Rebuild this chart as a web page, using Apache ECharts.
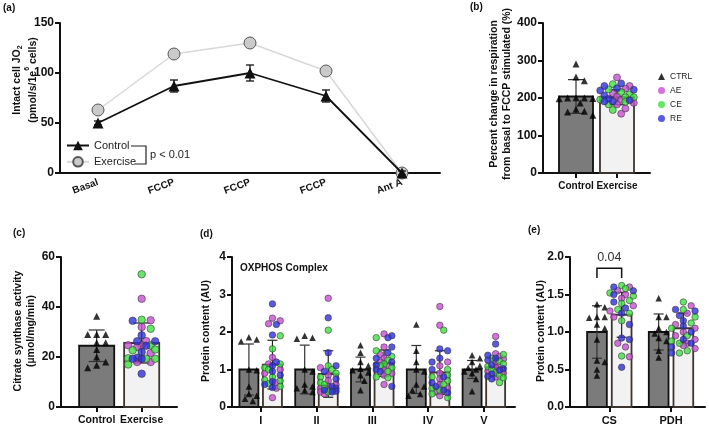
<!DOCTYPE html>
<html>
<head>
<meta charset="utf-8">
<script src="https://cdn.jsdelivr.net/npm/echarts@6/dist/echarts.min.js"></script>
<style>
  html, body { margin: 0; padding: 0; background: #fff; }
  #chart { width: 709px; height: 428px; }
</style>
</head>
<body>
<div id="chart"></div>
<script>
// ---- (a) intact cell respiration ----
const respSteps = ['Basal', 'FCCP', 'FCCP', 'FCCP', 'Ant A'];
const respControl = [50, 87, 100, 77, 0];
const respControlErr = [2, 6, 8, 6, 2];
const respExercise = [63, 119, 130, 102, 0];
const respExerciseErr = [2, 4, 4, 2, 2];

// ---- (b) percent change basal -> FCCP ----
const groupNames = ['Control', 'Exercise'];
const pctMean = [204, 202];
const pctSd = [45, 20];
const pctCtrl = [291, 256, 246, 200, 200, 199, 201, 198, 187, 170, 165, 163, 154];
const pctAE = [255, 232, 225, 213, 204, 195, 187, 183, 172, 158];
const pctCE = [237, 223, 216, 210, 202, 202, 196, 190, 183, 168];
const pctRE = [239, 232, 226, 222, 220, 207, 198, 194, 191, 191];

// ---- (c) citrate synthase activity ----
const csActMean = [24.5, 25.6];
const csActSd = [6.3, 8];
const csActCtrl = [36.3, 29, 29, 29, 25.7, 25.7, 23, 20, 18, 16.7, 15.7];
const csActAE = [43.3, 34.7, 32, 26.4, 24.7, 24.7, 24, 21.5, 18, 18];
const csActCE = [53.1, 34.9, 31.3, 24.7, 23, 22.7, 19.3, 19.3, 19.5, 17];
const csActRE = [34.5, 28.7, 26.3, 26.3, 24.5, 22, 19.7, 19.3, 19.3, 13.3];

// ---- (d) OXPHOS complexes ----
const oxComplexes = ['I', 'II', 'III', 'IV', 'V'];
const oxCtrlMean = [1.0, 1.0, 1.0, 1.0, 1.0];
const oxCtrlSd = [0.68, 0.65, 0.33, 0.64, 0.24];
const oxExMean = [1.13, 0.88, 1.17, 0.92, 1.06];
const oxExSd = [0.65, 0.62, 0.35, 0.58, 0.24];
const oxCtrl = [
  [1.86, 1.8, 1.75, 1.0, 0.98, 0.55, 0.35, 0.3, 0.22, 0.16],
  [1.9, 1.85, 1.82, 1.0, 0.95, 0.6, 0.55, 0.5, 0.45, 0.4],
  [1.65, 1.45, 1.2, 1.1, 1.02, 0.98, 0.92, 0.85, 0.7, 0.45],
  [2.2, 1.5, 1.2, 1.0, 0.95, 0.6, 0.55, 0.45, 0.35, 0.3],
  [1.38, 1.3, 1.2, 1.1, 1.05, 1.0, 0.95, 0.9, 0.75, 0.42]
];
const oxAE = [
  [2.37, 2.3, 2.22, 1.32, 1.15, 1.0, 0.9, 0.65, 0.5, 0.25],
  [2.9, 1.05, 0.85, 0.7, 0.6, 0.55, 0.5, 0.45, 0.4, 0.35],
  [1.95, 1.6, 1.4, 1.3, 1.2, 1.1, 1.0, 0.9, 0.85, 0.6],
  [2.68, 2.18, 1.2, 1.1, 0.9, 0.75, 0.6, 0.5, 0.4, 0.3],
  [1.88, 1.42, 1.35, 1.28, 1.2, 1.1, 1.05, 0.95, 0.9, 0.8]
];
const oxCE = [
  [1.9, 1.55, 1.15, 1.05, 1.0, 0.8, 0.72, 0.7, 0.62, 0.55],
  [2.05, 1.1, 1.0, 0.9, 0.8, 0.65, 0.6, 0.5, 0.45, 0.4],
  [1.85, 1.5, 1.35, 1.25, 1.15, 1.1, 1.05, 0.95, 0.8, 0.78],
  [2.05, 1.0, 0.85, 0.8, 0.7, 0.6, 0.5, 0.45, 0.35, 0.25],
  [1.4, 1.3, 1.22, 1.15, 1.08, 1.0, 0.92, 0.85, 0.78, 0.65]
];
const oxRE = [
  [2.75, 2.2, 1.92, 1.2, 1.1, 0.95, 0.85, 0.68, 0.6, 0.52],
  [2.38, 1.45, 1.1, 0.95, 0.75, 0.55, 0.5, 0.45, 0.42, 0.4],
  [1.9, 1.85, 1.6, 1.45, 1.3, 1.2, 1.12, 1.0, 0.95, 0.55],
  [1.55, 1.5, 1.3, 1.2, 1.0, 0.8, 0.65, 0.55, 0.45, 0.38],
  [1.68, 1.38, 1.3, 1.25, 1.12, 1.02, 0.98, 0.88, 0.82, 0.75]
];

// ---- (e) CS and PDH protein ----
const enzymes = ['CS', 'PDH'];
const enzCtrlMean = [1.0, 1.0];
const enzCtrlSd = [0.35, 0.24];
const enzExMean = [1.23, 1.05];
const enzExSd = [0.3, 0.2];
const enzCtrl = [
  [1.37, 1.33, 1.2, 1.2, 1.19, 1.1, 1.05, 0.9, 0.62, 0.6, 0.5, 0.42],
  [1.45, 1.2, 1.2, 1.05, 1.0, 0.98, 0.92, 0.88, 0.75, 0.66]
];
const enzAE = [
  [1.6, 1.55, 1.5, 1.45, 1.35, 1.28, 1.2, 0.85, 0.8, 0.67],
  [1.35, 1.25, 1.1, 1.05, 1.0, 0.95, 0.9, 0.85, 0.82, 0.78]
];
const enzCE = [
  [1.62, 1.58, 1.52, 1.48, 1.42, 1.38, 1.3, 1.25, 1.15, 0.68],
  [1.4, 1.3, 1.2, 1.12, 1.05, 0.95, 0.88, 0.85, 0.75, 0.72]
];
const enzRE = [
  [1.6, 1.55, 1.5, 1.4, 1.32, 1.25, 1.1, 0.92, 0.9, 0.53],
  [1.3, 1.28, 1.22, 1.15, 1.08, 1.0, 0.9, 0.85, 0.8, 0.72]
];
const csPValue = '0.04';

const FONT = '"Liberation Sans", Arial, sans-serif';
const groupColors = { CTRL: '#000', AE: '#c84fd4', CE: '#40e040', RE: '#2f2fe0' };

// deterministic beeswarm: spreads points sideways so they do not overlap
function swarm(vals, pxX, pxY, diam, maxPx) {
  const order = vals.map((v, i) => i).sort((a, b) => vals[b] - vals[a]);
  const placed = [];
  const offs = new Array(vals.length).fill(0);
  const step = diam * 0.6;
  order.forEach(i => {
    const y = vals[i] * pxY;
    let best = 0, bestGap = -1;
    for (let k = 0; k < 40; k++) {
      const off = (k % 2 ? 1 : -1) * Math.ceil(k / 2) * step;
      if (Math.abs(off) > maxPx) break;
      const gap = placed.reduce((g, p) => Math.min(g, Math.hypot(p[0] - off, p[1] - y)), Infinity);
      if (gap >= diam * 0.9) { best = off; bestGap = gap; break; }
      if (gap > bestGap) { bestGap = gap; best = off; }
    }
    placed.push([best, y]);
    offs[i] = best / pxX;
  });
  return offs;
}

function axisLineStyle() {
  return { show: true, lineStyle: { color: '#111', width: 2 } };
}

function valueY(gi, max, interval, fmt) {
  return {
    type: 'value', gridIndex: gi, min: 0, max: max, interval: interval,
    axisLine: axisLineStyle(),
    axisTick: { show: true, length: 5, lineStyle: { color: '#111', width: 2 } },
    axisLabel: { color: '#111', fontWeight: 'bold', fontSize: 12, fontFamily: FONT, margin: 6, formatter: fmt },
    splitLine: { show: false }
  };
}

function valueX(gi, min, max, names, fontSize) {
  const ticks = names.map((n, i) => i + 1);
  return {
    type: 'value', gridIndex: gi, min: min, max: max,
    axisLine: axisLineStyle(),
    axisTick: { show: true, length: 5, customValues: ticks, lineStyle: { color: '#111', width: 2 } },
    axisLabel: {
      customValues: ticks, color: '#111', fontWeight: 'bold', fontSize: fontSize, fontFamily: FONT, margin: 8,
      showMinLabel: true, showMaxLabel: true,
      formatter: v => names[Math.round(v) - 1] || ''
    },
    splitLine: { show: false }
  };
}

function barPanel(gi, bars, opt) {
  const pxX = opt.width / (opt.xMax - opt.xMin);
  const pxY = opt.height / opt.yMax;
  const barData = bars.map(b => [b.x, b.mean, b.kind === 'ctrl' ? 0 : 1]);
  const errData = bars.map(b => [b.x, b.mean - b.sd, b.mean + b.sd, b.kind === 'ctrl' ? 0 : 1]);
  const pts = { CTRL: [], AE: [], CE: [], RE: [] };
  bars.forEach(b => {
    const items = b.kind === 'ctrl'
      ? b.pts.map(v => ({ v, g: 'CTRL' }))
      : ['AE', 'CE', 'RE'].flatMap(g => b.pts[g].map(v => ({ v, g })));
    const offs = swarm(items.map(p => p.v), pxX, pxY, opt.dot, opt.spread);
    items.forEach((p, i) => pts[p.g].push([b.x + offs[i], p.v]));
  });
  const series = [
    {
      type: 'custom', xAxisIndex: gi, yAxisIndex: gi, data: barData, z: 1, silent: true,
      encode: { x: 0, y: 1 },
      renderItem: (params, api) => {
        const x = api.value(0), m = api.value(1), ex = api.value(2);
        const p0 = api.coord([x - opt.barW / 2, m]);
        const p1 = api.coord([x + opt.barW / 2, 0]);
        return {
          type: 'rect',
          shape: { x: p0[0], y: p0[1], width: p1[0] - p0[0], height: p1[1] - p0[1] },
          style: { fill: ex ? '#f2f2f2' : '#7b7b7b', stroke: ex ? '#3d3530' : '#111', lineWidth: 1.8 }
        };
      }
    },
    {
      type: 'custom', xAxisIndex: gi, yAxisIndex: gi, data: errData, z: 2, silent: true,
      encode: { x: 0, y: [1, 2] },
      renderItem: (params, api) => {
        const x = api.value(0);
        const lo = api.coord([x, api.value(1)]);
        const hi = api.coord([x, api.value(2)]);
        const c = opt.cap;
        const style = { stroke: api.value(3) ? '#222' : '#333', lineWidth: 1.2 };
        return {
          type: 'group', children: [
            { type: 'line', shape: { x1: lo[0], y1: lo[1], x2: hi[0], y2: hi[1] }, style },
            { type: 'line', shape: { x1: hi[0] - c, y1: hi[1], x2: hi[0] + c, y2: hi[1] }, style },
            { type: 'line', shape: { x1: lo[0] - c, y1: lo[1], x2: lo[0] + c, y2: lo[1] }, style }
          ]
        };
      }
    },
    {
      type: 'scatter', name: 'CTRL', xAxisIndex: gi, yAxisIndex: gi, data: pts.CTRL, z: 3,
      symbol: 'triangle', symbolSize: opt.tri, itemStyle: { color: '#000' }
    }
  ];
  ['AE', 'CE', 'RE'].forEach(g => series.push({
    type: 'scatter', name: g, xAxisIndex: gi, yAxisIndex: gi, data: pts[g], z: 3,
    symbol: 'circle', symbolSize: opt.dot,
    itemStyle: { color: groupColors[g], borderColor: '#333', borderWidth: 0.7 }
  }));
  return series;
}

function errSeries(gi, means, errs, color, z) {
  return {
    type: 'custom', xAxisIndex: gi, yAxisIndex: gi, z: z, silent: true,
    data: means.map((m, i) => [i, m - errs[i], m + errs[i]]),
    encode: { x: 0, y: [1, 2] },
    renderItem: (params, api) => {
      const i = api.value(0);
      const lo = api.coord([i, api.value(1)]);
      const hi = api.coord([i, api.value(2)]);
      const style = { stroke: color, lineWidth: 1.3 };
      return {
        type: 'group', children: [
          { type: 'line', shape: { x1: lo[0], y1: lo[1], x2: hi[0], y2: hi[1] }, style },
          { type: 'line', shape: { x1: hi[0] - 4, y1: hi[1], x2: hi[0] + 4, y2: hi[1] }, style },
          { type: 'line', shape: { x1: lo[0] - 4, y1: lo[1], x2: lo[0] + 4, y2: lo[1] }, style }
        ]
      };
    }
  };
}

// panel geometry
const gB = { left: 543, top: 23, width: 107, height: 150, xMin: 0.195, xMax: 2.805, yMax: 400 };
const gC = { left: 61, top: 257, width: 116, height: 150, xMin: 0.207, xMax: 2.785, yMax: 60 };
const gD = { left: 232, top: 257, width: 283, height: 150, xMin: 0.486, xMax: 5.558, yMax: 4 };
const gE = { left: 570, top: 257, width: 135, height: 150, xMin: 0.363, xMax: 2.551, yMax: 2 };

const seriesB = barPanel(1, [
  { x: 1, kind: 'ctrl', mean: pctMean[0], sd: pctSd[0], pts: pctCtrl },
  { x: 2, kind: 'ex', mean: pctMean[1], sd: pctSd[1], pts: { AE: pctAE, CE: pctCE, RE: pctRE } }
], Object.assign({ barW: 0.83, cap: 8, dot: 7, tri: 7, spread: 17 }, gB));

const seriesC = barPanel(2, [
  { x: 1, kind: 'ctrl', mean: csActMean[0], sd: csActSd[0], pts: csActCtrl },
  { x: 2, kind: 'ex', mean: csActMean[1], sd: csActSd[1], pts: { AE: csActAE, CE: csActCE, RE: csActRE } }
], Object.assign({ barW: 0.78, cap: 8, dot: 7.5, tri: 7, spread: 17 }, gC));

const dBars = [];
oxComplexes.forEach((c, k) => {
  dBars.push({ x: k + 1 - 0.211, kind: 'ctrl', mean: oxCtrlMean[k], sd: oxCtrlSd[k], pts: oxCtrl[k] });
  dBars.push({ x: k + 1 + 0.211, kind: 'ex', mean: oxExMean[k], sd: oxExSd[k], pts: { AE: oxAE[k], CE: oxCE[k], RE: oxRE[k] } });
});
const seriesD = barPanel(3, dBars, Object.assign({ barW: 0.34, cap: 5, dot: 6.5, tri: 6.5, spread: 11 }, gD));

const eBars = [];
enzymes.forEach((e, k) => {
  eBars.push({ x: k + 1 - 0.2, kind: 'ctrl', mean: enzCtrlMean[k], sd: enzCtrlSd[k], pts: enzCtrl[k] });
  eBars.push({ x: k + 1 + 0.2, kind: 'ex', mean: enzExMean[k], sd: enzExSd[k], pts: { AE: enzAE[k], CE: enzCE[k], RE: enzRE[k] } });
});
const seriesE = barPanel(4, eBars, Object.assign({ barW: 0.32, cap: 5, dot: 6.5, tri: 6.5, spread: 12 }, gE));

// significance bracket for CS
const sigBracket = [[1 - 0.2, 1 + 0.2, 1.85, 1.72]];
seriesE.push({
  type: 'custom', xAxisIndex: 4, yAxisIndex: 4, z: 4, silent: true, data: sigBracket,
  encode: { x: [0, 1], y: [2, 3] },
  renderItem: (params, api) => {
    const a = api.coord([api.value(0), api.value(3)]);
    const b = api.coord([api.value(0), api.value(2)]);
    const c = api.coord([api.value(1), api.value(2)]);
    const d = api.coord([api.value(1), api.value(3)]);
    return {
      type: 'group', children: [
        { type: 'polyline', shape: { points: [a, b, c, d] }, style: { stroke: '#111', lineWidth: 1.5, fill: null } },
        { type: 'text', x: (b[0] + c[0]) / 2, y: b[1] - 4,
          style: { text: csPValue, fill: '#333', font: '12.5px ' + FONT, align: 'center', verticalAlign: 'bottom' } }
      ]
    };
  }
});

function rotTitle(x, y, text, rich, font) {
  return {
    type: 'text', x: x, y: y, rotation: Math.PI / 2, silent: true,
    style: { text: text, font: font, fill: '#111', align: 'center', verticalAlign: 'middle', lineHeight: 13, rich: rich }
  };
}
function label(x, y, text) {
  return { type: 'text', x: x, y: y, silent: true, style: { text: text, font: 'bold 10px ' + FONT, fill: '#111' } };
}

const chart = echarts.init(document.getElementById('chart'));
chart.setOption({
  animation: false,
  textStyle: { fontFamily: FONT },
  grid: [
    { left: 60, top: 23, width: 380, height: 150 },
    { left: gB.left, top: gB.top, width: gB.width, height: gB.height },
    { left: gC.left, top: gC.top, width: gC.width, height: gC.height },
    { left: gD.left, top: gD.top, width: gD.width, height: gD.height },
    { left: gE.left, top: gE.top, width: gE.width, height: gE.height }
  ],
  xAxis: [
    {
      type: 'category', gridIndex: 0, data: respSteps, boundaryGap: true,
      axisLine: axisLineStyle(), axisTick: { show: false },
      axisLabel: { rotate: 20, interval: 0, color: '#111', fontWeight: 'bold', fontSize: 10, fontFamily: FONT, margin: 9 }
    },
    valueX(1, gB.xMin, gB.xMax, groupNames, 10),
    valueX(2, gC.xMin, gC.xMax, groupNames, 10.5),
    valueX(3, gD.xMin, gD.xMax, oxComplexes, 11),
    valueX(4, gE.xMin, gE.xMax, enzymes, 11)
  ],
  yAxis: [
    valueY(0, 150, 50),
    valueY(1, 400, 100),
    valueY(2, 60, 20),
    valueY(3, 4, 1),
    valueY(4, 2, 0.5, v => v.toFixed(1))
  ],
  legend: [
    {
      data: ['Control', 'Exercise'], orient: 'vertical', left: 61, top: 135,
      itemWidth: 22, itemHeight: 12, itemGap: 5, selectedMode: false,
      textStyle: { fontSize: 11, color: '#222', fontFamily: FONT }
    },
    {
      data: ['CTRL', 'AE', 'CE', 'RE'], orient: 'vertical', left: 653, top: 67,
      itemWidth: 7, itemHeight: 7, itemGap: 5, selectedMode: false,
      itemStyle: { borderWidth: 0 },
      textStyle: { fontSize: 8.5, color: '#222', fontFamily: FONT }
    }
  ],
  graphic: [
    label(3, 3, '(a)'), label(470, 2, '(b)'), label(13, 228, '(c)'), label(200, 229, '(d)'), label(528, 225, '(e)'),
    rotTitle(27, 80, 'Intact cell JO{sub|2}\n(pmol/s/1e{sup|6} cells)',
      { sub: { fontSize: 7, verticalAlign: 'bottom', fontWeight: 'bold', lineHeight: 8 },
        sup: { fontSize: 7, verticalAlign: 'top', fontWeight: 'bold', lineHeight: 20 } },
      'bold 10.5px ' + FONT),
    rotTitle(501, 94, 'Percent change in respiration\nfrom basal to FCCP stimulated (%)', null, 'bold 10.5px ' + FONT),
    rotTitle(25, 331, 'Citrate synthase activity\n(µmol/mg/min)', null, 'bold 10.5px ' + FONT),
    rotTitle(206, 331, 'Protein content (AU)', null, 'bold 10.5px ' + FONT),
    rotTitle(541, 331, 'Protein content (AU)', null, 'bold 10.5px ' + FONT),
    { type: 'text', x: 240, y: 263, silent: true, style: { text: 'OXPHOS Complex', font: 'bold 10px ' + FONT, fill: '#111' } },
    { type: 'polyline', silent: true, shape: { points: [[131, 146], [146, 146], [146, 164], [135, 164]] },
      style: { stroke: '#222', lineWidth: 1.2, fill: null } },
    { type: 'text', x: 150, y: 149, silent: true, style: { text: 'p < 0.01', font: '11px ' + FONT, fill: '#222' } }
  ],
  series: [
    errSeries(0, respExercise, respExerciseErr, '#555', 2),
    {
      type: 'line', name: 'Exercise', xAxisIndex: 0, yAxisIndex: 0, data: respExercise, z: 3,
      symbol: 'circle', symbolSize: 12,
      lineStyle: { color: '#d8d8d8', width: 1.5 },
      itemStyle: { color: '#cacaca', borderColor: '#555', borderWidth: 1 }
    },
    errSeries(0, respControl, respControlErr, '#111', 4),
    {
      type: 'line', name: 'Control', xAxisIndex: 0, yAxisIndex: 0, data: respControl, z: 5,
      symbol: 'triangle', symbolSize: 11,
      lineStyle: { color: '#111', width: 1.8 },
      itemStyle: { color: '#111' }
    }
  ].concat(seriesB, seriesC, seriesD, seriesE)
});
</script>
</body>
</html>
